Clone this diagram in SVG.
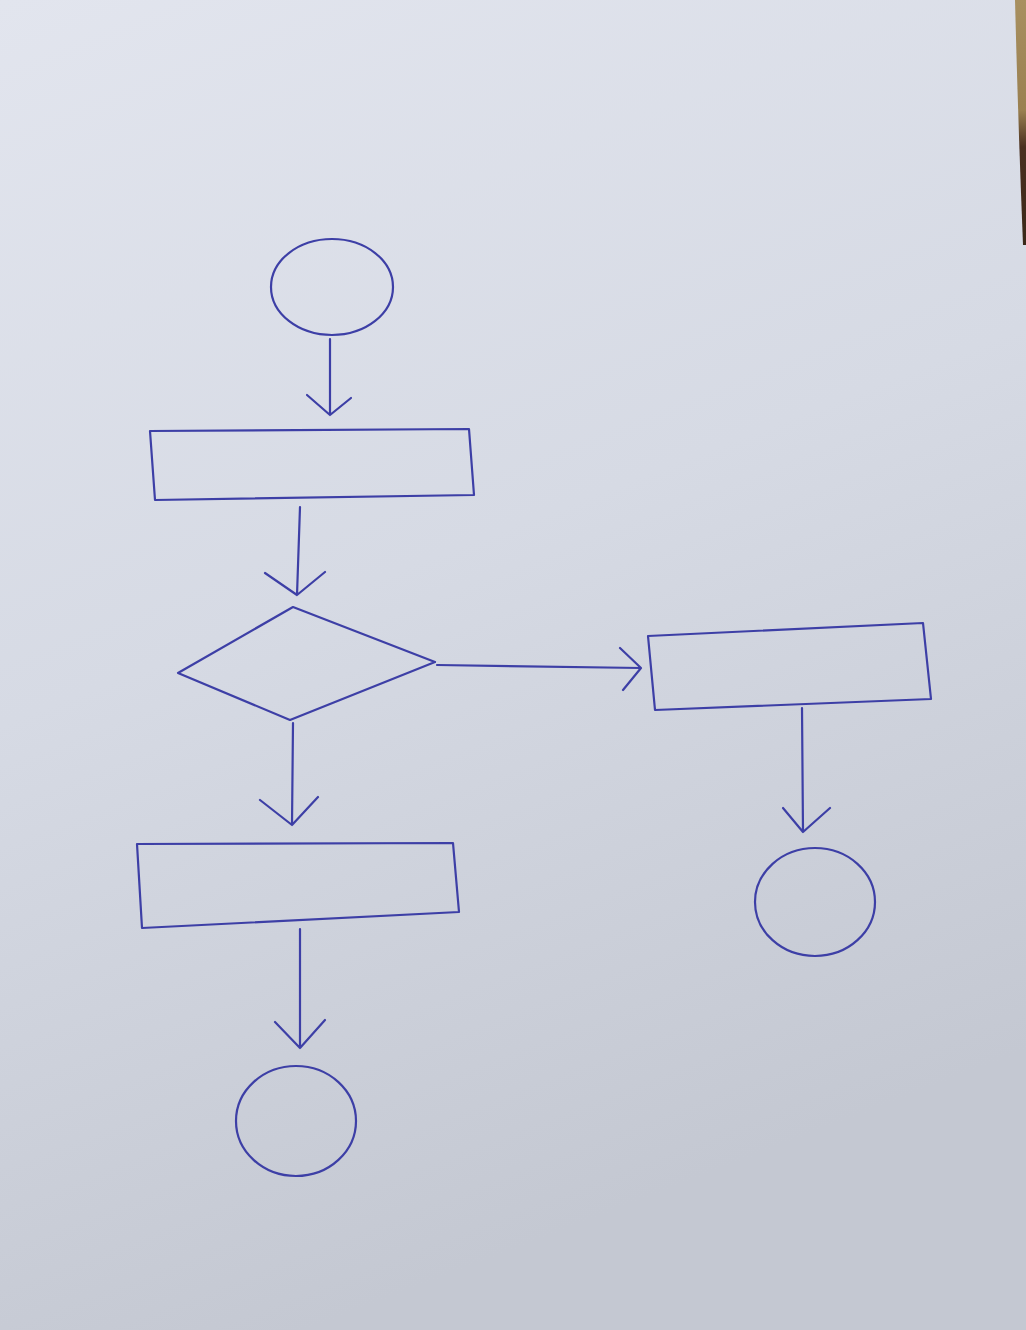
<svg xmlns="http://www.w3.org/2000/svg" width="1026" height="1330" viewBox="0 0 1026 1330">
<defs>
<linearGradient id="paper" x1="0" y1="0" x2="0.3" y2="1">
<stop offset="0" stop-color="#e2e5ee"/>
<stop offset="0.5" stop-color="#d6dae4"/>
<stop offset="1" stop-color="#c4c8d2"/>
</linearGradient>
<linearGradient id="cloth" x1="0" y1="0" x2="0" y2="1">
<stop offset="0" stop-color="#a89060"/>
<stop offset="0.45" stop-color="#9a8050"/>
<stop offset="0.6" stop-color="#4a3020"/>
<stop offset="1" stop-color="#3a2818"/>
</linearGradient>
<style>
.pen{fill:none;stroke:#3d3fa6;stroke-width:2.2;stroke-linecap:round;stroke-linejoin:round}
</style>
</defs>
<rect width="1026" height="1330" fill="url(#paper)"/>
<path d="M1015,0 L1026,0 L1026,245 L1023,245 Q1018,120 1015,0Z" fill="url(#cloth)"/>
<g id="start"><ellipse class="pen" cx="332" cy="287" rx="61" ry="48"/></g>
<g id="process1"><path class="pen" d="M150,431 L469,429 L474,495 L155,500 Z"/></g>
<g id="decision"><path class="pen" d="M293,607 L435,662 L290,720 L178,673 Z"/></g>
<g id="process2"><path class="pen" d="M648,636 L923,623 L931,699 L655,710 Z"/></g>
<g id="end2"><ellipse class="pen" cx="815" cy="902" rx="60" ry="54"/></g>
<g id="process3"><path class="pen" d="M137,844 L453,843 L459,912 L142,928 Z"/></g>
<g id="end1"><ellipse class="pen" cx="296" cy="1121" rx="60" ry="55"/></g>
<g id="connectors">
<path class="pen" d="M330,339 L330,415 M307,395 L330,415 L351,398"/>
<path class="pen" d="M300,507 L297,595 M265,573 L297,595 L325,572"/>
<path class="pen" d="M437,665 L641,668 M620,648 L641,668 L623,690"/>
<path class="pen" d="M802,708 L803,832 M783,808 L803,832 L830,808"/>
<path class="pen" d="M293,723 L292,825 M260,800 L292,825 L318,797"/>
<path class="pen" d="M300,929 L300,1048 M275,1022 L300,1048 L325,1020"/>
</g>
</svg>
